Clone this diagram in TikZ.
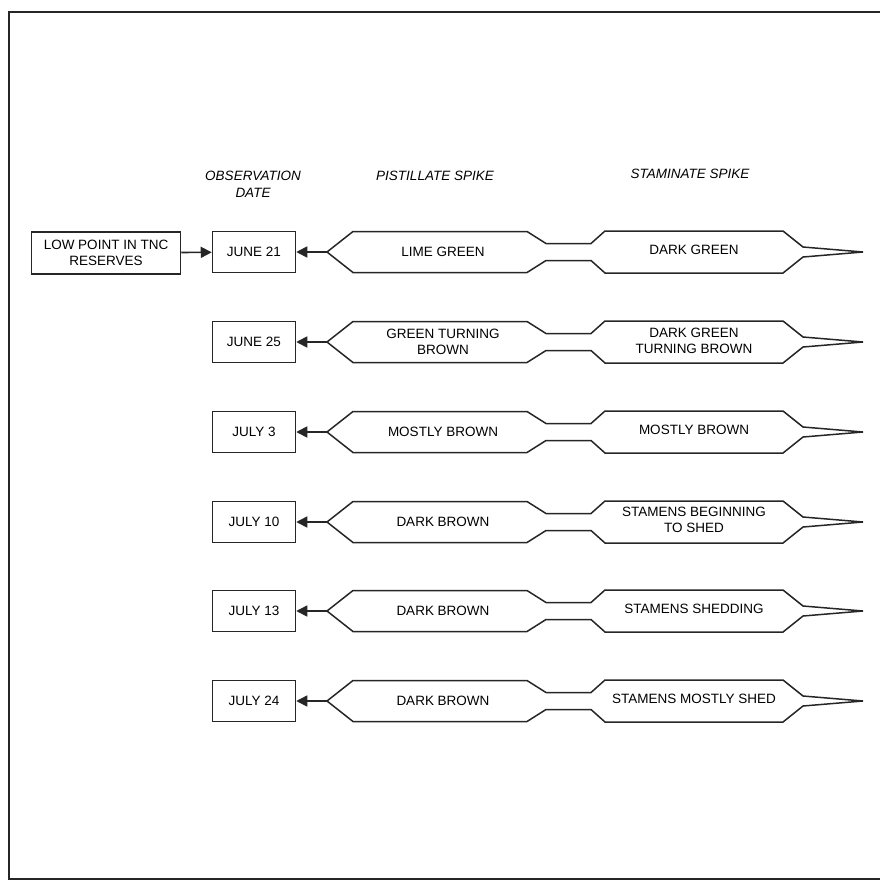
\documentclass[tikz,border=0pt]{standalone}
\usepackage{fontspec}
\setmainfont{Liberation Sans}
\usepackage{tikz}
\usetikzlibrary{positioning, arrows.meta}

\begin{document}
\begin{tikzpicture}[x=1pt, y=-1pt,
        box/.style={rectangle, draw=black!85, line width=1.5pt, align=center, font=\fontsize{13.5}{16}\selectfont},
        lbl/.style={align=center, font=\fontsize{13.5}{16}\selectfont},
        head/.style={align=center, font=\fontsize{13.5}{17}\selectfont\itshape},
        spike/.style={draw=black!85, line width=1.5pt, line join=miter},
        conn/.style={draw=black!85, line width=1.6pt, -{Triangle[length=11pt, width=11pt]}}]
            \useasboundingbox (0,0) rectangle (880,884);
            \draw[line width=1.8pt, black!85] (880,12) -- (9,12) -- (9,879) -- (880,879);

            % headings
            \node[head] (hdate) at (253,184) {OBSERVATION\\DATE};
            \node[head] (hpist) at (435,176) {PISTILLATE SPIKE};
            \node[head] (hstam) at (690,174) {STAMINATE SPIKE};

            % boxes on the left
            \node[box, minimum width=149pt, minimum height=42pt] (low) at (106,253) {LOW POINT IN TNC\\RESERVES};
            \node[box, minimum width=83pt, minimum height=41pt] (date1) at (254,252) {JUNE 21};
            \node[box, minimum width=83pt, minimum height=41pt] (date2) at (254,342) {JUNE 25};
            \node[box, minimum width=83pt, minimum height=41pt] (date3) at (254,432) {JULY 3};
            \node[box, minimum width=83pt, minimum height=41pt] (date4) at (254,522) {JULY 10};
            \node[box, minimum width=83pt, minimum height=41pt] (date5) at (254,611) {JULY 13};
            \node[box, minimum width=83pt, minimum height=41pt] (date6) at (254,701) {JULY 24};

            % spike outlines
            \draw[spike, shift={(0,252)}] (327,0) -- (353,-20.5) -- (527,-20.5) -- (546,-8.5) -- (591,-8.5) -- (605,-21) -- (783,-21) -- (803,-5) -- (863,0) -- (803,5) -- (783,21) -- (605,21) -- (591,8.5) -- (546,8.5) -- (527,20.5) -- (353,20.5) -- cycle;
            \draw[spike, shift={(0,342)}] (327,0) -- (353,-20.5) -- (527,-20.5) -- (546,-8.5) -- (591,-8.5) -- (605,-21) -- (783,-21) -- (803,-5) -- (863,0) -- (803,5) -- (783,21) -- (605,21) -- (591,8.5) -- (546,8.5) -- (527,20.5) -- (353,20.5) -- cycle;
            \draw[spike, shift={(0,432)}] (327,0) -- (353,-20.5) -- (527,-20.5) -- (546,-8.5) -- (591,-8.5) -- (605,-21) -- (783,-21) -- (803,-5) -- (863,0) -- (803,5) -- (783,21) -- (605,21) -- (591,8.5) -- (546,8.5) -- (527,20.5) -- (353,20.5) -- cycle;
            \draw[spike, shift={(0,522)}] (327,0) -- (353,-20.5) -- (527,-20.5) -- (546,-8.5) -- (591,-8.5) -- (605,-21) -- (783,-21) -- (803,-5) -- (863,0) -- (803,5) -- (783,21) -- (605,21) -- (591,8.5) -- (546,8.5) -- (527,20.5) -- (353,20.5) -- cycle;
            \draw[spike, shift={(0,611)}] (327,0) -- (353,-20.5) -- (527,-20.5) -- (546,-8.5) -- (591,-8.5) -- (605,-21) -- (783,-21) -- (803,-5) -- (863,0) -- (803,5) -- (783,21) -- (605,21) -- (591,8.5) -- (546,8.5) -- (527,20.5) -- (353,20.5) -- cycle;
            \draw[spike, shift={(0,701)}] (327,0) -- (353,-20.5) -- (527,-20.5) -- (546,-8.5) -- (591,-8.5) -- (605,-21) -- (783,-21) -- (803,-5) -- (863,0) -- (803,5) -- (783,21) -- (605,21) -- (591,8.5) -- (546,8.5) -- (527,20.5) -- (353,20.5) -- cycle;

            % spike tips on the date side
            \coordinate (tip1) at (327,252);
            \coordinate (tip2) at (327,342);
            \coordinate (tip3) at (327,432);
            \coordinate (tip4) at (327,522);
            \coordinate (tip5) at (327,611);
            \coordinate (tip6) at (327,701);

            % spike texts
            \node[lbl] (pist1) at (443,252) {LIME GREEN};
            \node[lbl] (pist2) at (443,342) {GREEN TURNING\\BROWN};
            \node[lbl] (pist3) at (443,432) {MOSTLY BROWN};
            \node[lbl] (pist4) at (443,522) {DARK BROWN};
            \node[lbl] (pist5) at (443,611) {DARK BROWN};
            \node[lbl] (pist6) at (443,701) {DARK BROWN};
            \node[lbl] (stam1) at (694,250) {DARK GREEN};
            \node[lbl] (stam2) at (694,341) {DARK GREEN\\TURNING BROWN};
            \node[lbl] (stam3) at (694,430) {MOSTLY BROWN};
            \node[lbl] (stam4) at (694,520) {STAMENS BEGINNING\\TO SHED};
            \node[lbl] (stam5) at (694,609) {STAMENS SHEDDING};
            \node[lbl] (stam6) at (694,699) {STAMENS MOSTLY SHED};

            \draw[conn] (low) -- (date1);
            \draw[conn] (tip1) -- (date1);
            \draw[conn] (tip2) -- (date2);
            \draw[conn] (tip3) -- (date3);
            \draw[conn] (tip4) -- (date4);
            \draw[conn] (tip5) -- (date5);
            \draw[conn] (tip6) -- (date6);
        \end{tikzpicture}
\end{document}
